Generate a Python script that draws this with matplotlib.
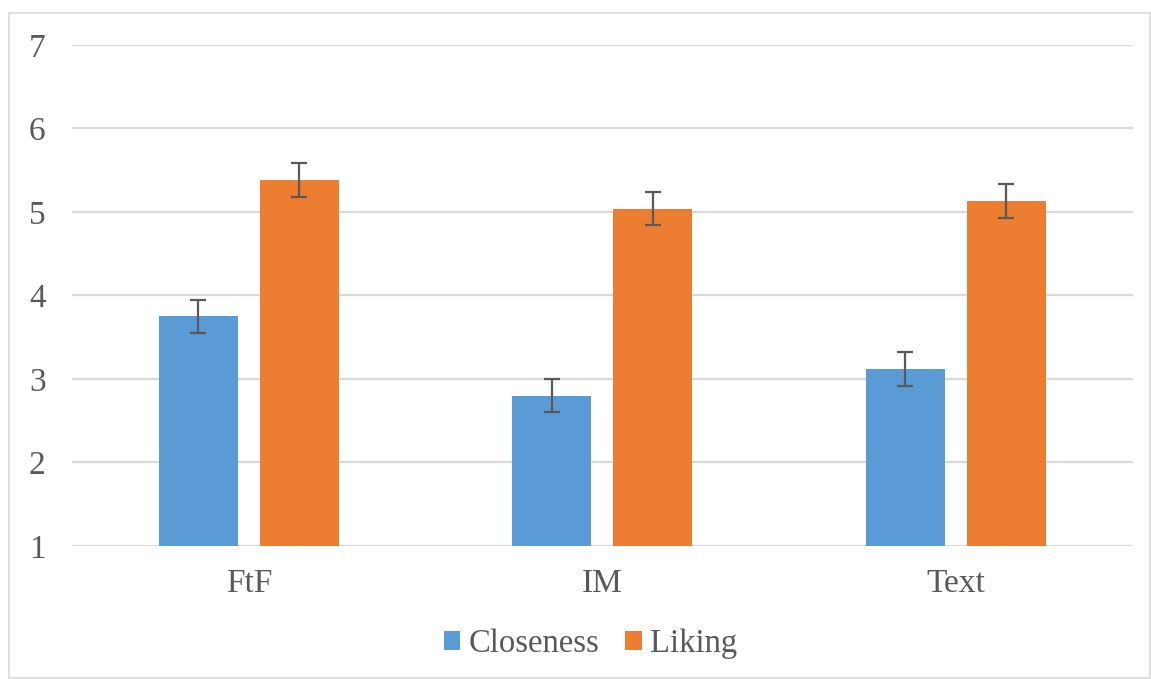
import matplotlib.pyplot as plt
import numpy as np
from matplotlib.patches import Rectangle

# data
categories = ['FtF', 'IM', 'Text']
closeness = [3.75, 2.80, 3.12]
liking = [5.38, 5.04, 5.13]
closeness_err = [0.20, 0.20, 0.20]
liking_err = [0.20, 0.20, 0.20]

blue = '#5b9bd5'
orange = '#ed7d31'
grey = '#595959'

plt.rcParams['font.family'] = 'Liberation Serif'

fig = plt.figure(figsize=(11.51, 6.79), dpi=100)
ax = fig.add_axes([0.0626, 0.196, 0.9214, 0.738])

x = np.arange(len(categories))
w = 0.223
off = 0.143
ax.bar(x - off, closeness, w, color=blue, label='Closeness', zorder=3)
ax.bar(x + off, liking, w, color=orange, label='Liking', zorder=3)
ax.errorbar(x - off, closeness, yerr=closeness_err, fmt='none', ecolor=grey,
            elinewidth=1.6, capsize=6, capthick=1.6, zorder=4)
ax.errorbar(x + off, liking, yerr=liking_err, fmt='none', ecolor=grey,
            elinewidth=1.6, capsize=6, capthick=1.6, zorder=4)

ax.set_xlim(-0.5, 2.5)
ax.set_ylim(1, 7)
ax.set_yticks(range(1, 8))
ax.set_xticks(x)
ax.set_xticklabels(categories)
ax.grid(axis='y', color='#d9d9d9', linewidth=1.6, zorder=0)
for s in ax.spines.values():
    s.set_visible(False)
ax.tick_params(axis='both', length=0, labelsize=24, labelcolor=grey)
ax.tick_params(axis='y', pad=19)
ax.tick_params(axis='x', pad=16)

leg = fig.legend(loc='center', bbox_to_anchor=(0.513, 0.052), ncol=2, frameon=False,
                 fontsize=23.5, handlelength=0.5, handleheight=0.5,
                 handletextpad=0.25, columnspacing=0.8)
for t in leg.get_texts():
    t.set_color(grey)

# outer chart border
fig.patches.append(Rectangle((9 / 1151, 0.002), 1 - 10 / 1151, 1 - 13 / 679 - 0.002,
                             transform=fig.transFigure, fill=False,
                             edgecolor='#d9d9d9', linewidth=1.2))

fig.savefig('out.png', dpi=100)
